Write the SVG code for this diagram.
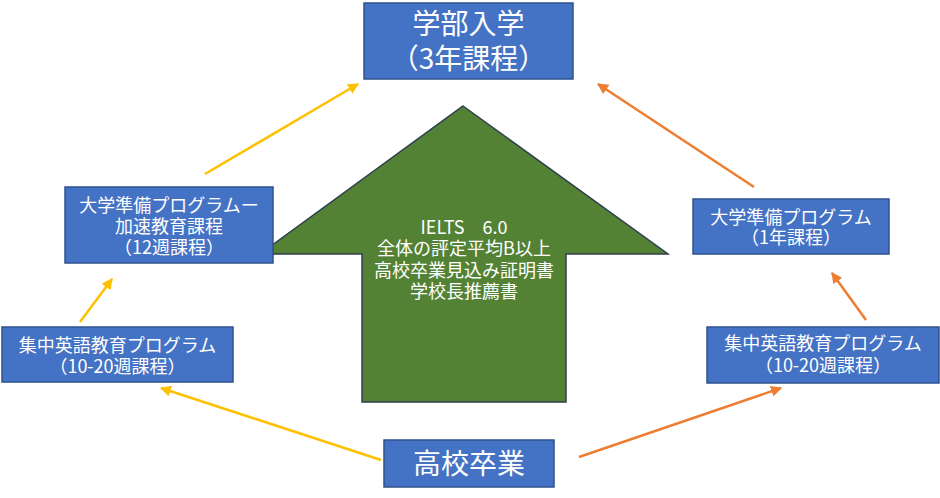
<svg xmlns="http://www.w3.org/2000/svg" width="940" height="498" viewBox="0 0 940 498">
<defs>
<style>
.box{fill:#4472C4;stroke:#2F528F;stroke-width:1.5}
.t{fill:#FFFFFF;font-family:"Noto Sans CJK JP","Noto Sans",sans-serif;text-anchor:middle}
.s{font-size:18px}
.l{font-size:28px}
.y{stroke:#FFC000;stroke-width:2.5;fill:none;marker-end:url(#ay)}
.o{stroke:#ED7D31;stroke-width:2.5;fill:none;marker-end:url(#ao)}
</style>
<marker id="ay" markerUnits="userSpaceOnUse" markerWidth="11" markerHeight="11" viewBox="0 0 10 10" refX="9" refY="5" orient="auto"><path d="M0,0 L10,5 L0,10 z" fill="#FFC000"/></marker>
<marker id="ao" markerUnits="userSpaceOnUse" markerWidth="11" markerHeight="11" viewBox="0 0 10 10" refX="9" refY="5" orient="auto"><path d="M0,0 L10,5 L0,10 z" fill="#ED7D31"/></marker>
</defs>
<rect width="940" height="498" fill="#FFFFFF"/>
<g id="connectors">
<line class="y" x1="205" y1="174" x2="358" y2="84"/>
<line class="y" x1="80" y1="322" x2="112" y2="279"/>
<line class="y" x1="381" y1="460" x2="161" y2="388"/>
<line class="o" x1="754" y1="187" x2="598" y2="84"/>
<line class="o" x1="866" y1="320" x2="832" y2="273"/>
<line class="o" x1="579" y1="457" x2="781" y2="388"/>
</g>
<g id="requirements">
<polygon points="463,106 668,254 566,254 566,402 362,402 362,254 260,254" fill="#548235" stroke="#2F3E4E" stroke-width="1.5"/>
<text class="t s" x="464" y="233.5">IELTS　6.0</text>
<text class="t s" x="464" y="255">全体の評定平均B以上</text>
<text class="t s" x="464" y="276.6">高校卒業見込み証明書</text>
<text class="t s" x="464" y="298.2">学校長推薦書</text>
</g>
<g id="university">
<rect class="box" x="364" y="3" width="209" height="76"/>
<text class="t l" x="468.5" y="34">学部入学</text>
<text class="t l" x="468.5" y="69">（3年課程）</text>
</g>
<g id="prep-accel">
<rect class="box" x="65" y="187" width="208" height="76"/>
<text class="t s" x="169" y="211.5">大学準備プログラムー</text>
<text class="t s" x="169" y="233">加速教育課程</text>
<text class="t s" x="169" y="254">（12週課程）</text>
</g>
<g id="english-left">
<rect class="box" x="2" y="327" width="231" height="55"/>
<text class="t s" x="117.5" y="351.5">集中英語教育プログラム</text>
<text class="t s" x="117.5" y="372.5">（10-20週課程）</text>
</g>
<g id="prep-1year">
<rect class="box" x="693" y="199" width="196" height="55"/>
<text class="t s" x="791" y="223.5">大学準備プログラム</text>
<text class="t s" x="791" y="243.5">（1年課程）</text>
</g>
<g id="english-right">
<rect class="box" x="707" y="327" width="232" height="56"/>
<text class="t s" x="823" y="350">集中英語教育プログラム</text>
<text class="t s" x="823" y="371.5">（10-20週課程）</text>
</g>
<g id="highschool">
<rect class="box" x="384" y="440" width="170" height="47"/>
<text class="t l" x="469" y="474">高校卒業</text>
</g>
</svg>
